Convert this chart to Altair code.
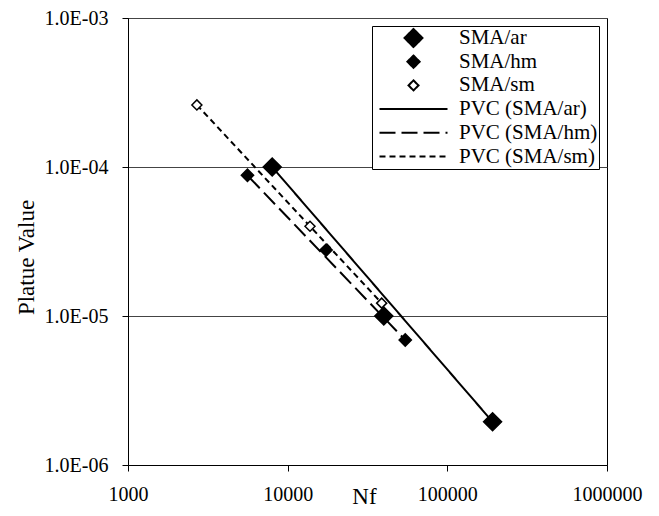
import altair as alt
import pandas as pd

series_all = ["SMA/ar", "SMA/hm", "SMA/sm", "PVC (SMA/ar)", "PVC (SMA/hm)", "PVC (SMA/sm)"]

# measured points
ar_nf = [8000, 40000, 192000]
ar_pv = [1.0e-4, 1.0e-5, 1.95e-6]
hm_nf = [5600, 17400, 54500]
hm_pv = [8.8e-5, 2.77e-5, 6.9e-6]
sm_nf = [2700, 13800, 38800]
sm_pv = [2.61e-4, 4.0e-5, 1.22e-5]

# PVC curves (end points)
pvc_ar_nf = [8000, 192000]
pvc_ar_pv = [1.0e-4, 1.95e-6]
pvc_hm_nf = [5700, 54500]
pvc_hm_pv = [8.6e-5, 6.9e-6]
pvc_sm_nf = [2700, 38800]
pvc_sm_pv = [2.61e-4, 1.22e-5]

shape_range = ["diamond", "diamond", "diamond", "stroke", "stroke", "stroke"]
size_range = [324, 150, 100, 4624, 4624, 4624]
fill_range = ["black", "black", "white", "transparent", "transparent", "transparent"]
dash_range = [[1, 0], [1, 0], [1, 0], [1, 0], [16, 6], [6, 4]]

pts = pd.DataFrame({
    "Nf": ar_nf + hm_nf + sm_nf,
    "PV": ar_pv + hm_pv + sm_pv,
    "series": ["SMA/ar"] * 3 + ["SMA/hm"] * 3 + ["SMA/sm"] * 3,
})
lines = pd.DataFrame({
    "Nf": pvc_ar_nf + pvc_hm_nf + pvc_sm_nf,
    "PV": pvc_ar_pv + pvc_hm_pv + pvc_sm_pv,
    "series": ["PVC (SMA/ar)"] * 2 + ["PVC (SMA/hm)"] * 2 + ["PVC (SMA/sm)"] * 2,
})

x_enc = alt.X("Nf:Q", scale=alt.Scale(type="log", domain=[1000, 1000000], nice=False),
              axis=alt.Axis(title="Nf", values=[1000, 10000, 100000, 1000000],
                            labelExpr="format(datum.value, 'd')", grid=False,
                            labelFlush=False, tickSize=6, labelPadding=13,
                            titleX=236, titleAlign="center",
                            titleY=38, titleBaseline="alphabetic"))
y_enc = alt.Y("PV:Q", scale=alt.Scale(type="log", domain=[1e-6, 1e-3], nice=False),
              axis=alt.Axis(title="Platue Value", values=[1e-6, 1e-5, 1e-4, 1e-3],
                            labelExpr="'1.0E-0' + format(-log(datum.value)/LN10, '.0f')",
                            grid=True, gridColor="#444444", gridWidth=1,
                            labelFlush=False, tickSize=6, labelPadding=14,
                            titleX=-102, titleY=239, titleBaseline="middle", titleAlign="center"))

line_layer = alt.Chart(lines).mark_line(color="black", strokeWidth=2).encode(
    x=x_enc, y=y_enc,
    strokeDash=alt.StrokeDash("series:N", scale=alt.Scale(domain=series_all, range=dash_range), title=None),
)

point_layer = alt.Chart(pts).mark_point(filled=True, opacity=1, stroke="black", strokeWidth=1.5).encode(
    x=x_enc, y=y_enc,
    shape=alt.Shape("series:N", scale=alt.Scale(domain=series_all, range=shape_range), title=None),
    size=alt.Size("series:N", scale=alt.Scale(type="ordinal", domain=series_all, range=size_range), title=None),
    fill=alt.Fill("series:N", scale=alt.Scale(domain=series_all, range=fill_range), title=None),
)

chart = alt.layer(line_layer, point_layer).properties(
    width=479, height=447,
    autosize="none",
    padding={"left": 120, "top": 10, "right": 44, "bottom": 43},
).configure(
    font="Liberation Serif",
    background="white",
).configure_view(
    stroke="black", strokeWidth=1,
).configure_axis(
    labelFont="Liberation Serif", labelFontSize=20, labelColor="black",
    titleFont="Liberation Serif", titleFontSize=23, titleFontWeight="normal", titleColor="black",
    domainColor="black", tickColor="black", domainWidth=1, tickWidth=1,
).configure_legend(
    orient="none", legendX=244, legendY=8,
    strokeColor="black", fillColor="white", padding=1.5,
    labelFont="Liberation Serif", labelFontSize=21, labelColor="black", labelBaseline="middle",
    symbolOffset=5, labelOffset=10.5, clipHeight=21, rowPadding=1.7,
    symbolStrokeColor="black", symbolStrokeWidth=2, symbolFillColor="black",
    symbolOpacity=1, labelLimit=300,
)

chart.save("out.html", embed_options={"renderer": "svg", "actions": False})
